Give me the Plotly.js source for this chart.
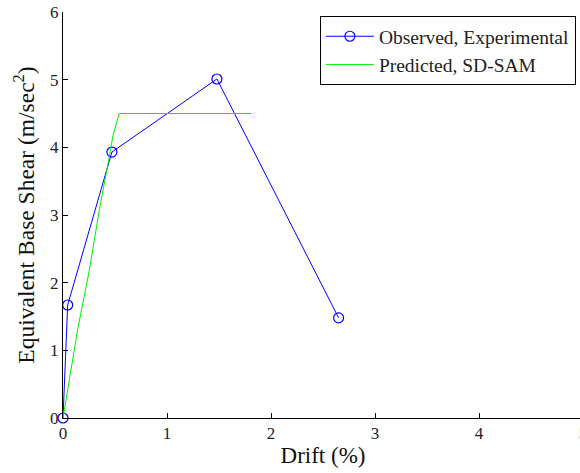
<!DOCTYPE html>
<html>
<head>
<meta charset="utf-8">
<script src="https://cdn.plot.ly/plotly-3.0.1.min.js"></script>
<style>
html,body{margin:0;padding:0;overflow:hidden;background:#fff;}
#chart{width:590px;height:473px;}
</style>
</head>
<body>
<div id="chart"></div>
<script>
var obsDrift = [0, 0.045, 0.47, 1.48, 2.65];
var obsShear = [0, 1.67, 3.93, 5.01, 1.48];
var predDrift = [0, 0.14, 0.255, 0.35, 0.45, 0.48, 0.54, 1.81];
var predShear = [0, 1.3, 2.2, 3.08, 3.9, 4.17, 4.5, 4.5];
var xTicks = [0, 1, 2, 3, 4, 5];
var yTicks = [0, 1, 2, 3, 4, 5, 6];

var font = "'Liberation Serif', 'DejaVu Serif', serif";

var traces = [
  {x: obsDrift, y: obsShear, mode: 'lines+markers', name: 'Observed, Experimental',
   line: {color: '#0000ff', width: 1},
   marker: {symbol: 'circle-open', size: 10, color: '#0000ff', line: {width: 1.2, color: '#0000ff'}},
   cliponaxis: false},
  {x: predDrift, y: predShear, mode: 'lines', name: 'Predicted, SD-SAM',
   line: {color: '#00f000', width: 1}}
];

var layout = {
  width: 590, height: 473,
  margin: {l: 63, r: 7, t: 12, b: 55},
  paper_bgcolor: '#fff', plot_bgcolor: '#fff',
  showlegend: true,
  font: {family: font, color: '#000'},
  xaxis: {
    range: [0, 5], tickvals: xTicks, ticktext: xTicks.map(String),
    ticks: 'inside', ticklen: 5, tickcolor: '#000', showgrid: false, zeroline: false,
    showline: true, linecolor: '#000', linewidth: 1,
    tickfont: {family: font, size: 17, color: '#222'},
    title: {text: 'Drift (%)', font: {family: font, size: 23, color: '#111'}, standoff: 4}
  },
  yaxis: {
    range: [0, 6], tickvals: yTicks, ticktext: yTicks.map(String),
    ticks: 'inside', ticklen: 5, tickcolor: '#000', showgrid: false, zeroline: false,
    showline: true, linecolor: '#000', linewidth: 1,
    tickfont: {family: font, size: 17, color: '#222'},
    title: {text: 'Equivalent Base Shear (m/sec<sup>2</sup>)', font: {family: font, size: 23.5, color: '#111'}, standoff: 8}
  },
  legend: {
    x: 0.494, y: 0.99, xanchor: 'left', yanchor: 'top',
    bordercolor: '#000', borderwidth: 1, bgcolor: '#fff',
    font: {family: font, size: 19.5, color: '#222'},
    itemwidth: 48,
    tracegroupgap: 0
  }
};

Plotly.newPlot('chart', traces, layout, {displayModeBar: false, staticPlot: true});
</script>
</body>
</html>
